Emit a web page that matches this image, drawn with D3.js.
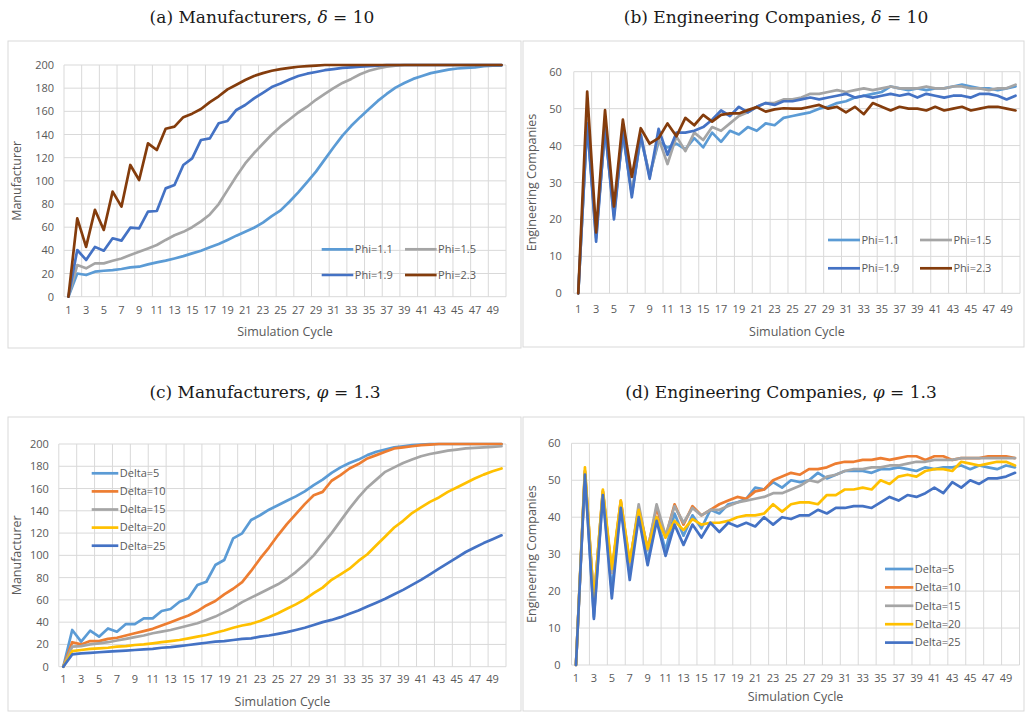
<!DOCTYPE html>
<html><head><meta charset="utf-8">
<script src="https://cdn.jsdelivr.net/npm/d3@7/dist/d3.min.js"></script>
<style>
body{margin:0;background:#fff;}
svg{display:block;}
</style></head><body>
<svg id="chart" width="1028" height="713"></svg>
<script>
// ---------- data ----------
const cycles = [1,2,3,4,5,6,7,8,9,10,11,12,13,14,15,16,17,18,19,20,21,22,23,24,25,26,27,28,29,30,31,32,33,34,35,36,37,38,39,40,41,42,43,44,45,46,47,48,49,50];
const xTickLabels = [1,3,5,7,9,11,13,15,17,19,21,23,25,27,29,31,33,35,37,39,41,43,45,47,49];
const manuTicks = [0,20,40,60,80,100,120,140,160,180,200];
const engTicks = [0,10,20,30,40,50,60];
const phiNames = ["Phi=1.1","Phi=1.5","Phi=1.9","Phi=2.3"];
const deltaNames = ["Delta=5","Delta=10","Delta=15","Delta=20","Delta=25"];
const phiColors = ["#5B9BD5","#A5A5A5","#4472C4","#843C0C"];
const deltaColors = ["#5B9BD5","#ED7D31","#A5A5A5","#FFC000","#4472C4"];

// (a) Manufacturers, delta = 10
const manuPhi11 = [0,20,18.7,21.6,22.4,23,23.9,25.3,25.9,27.9,29.6,31.1,33,35,37.4,39.7,42.6,45.5,49,52.7,56,59.5,64,69.5,74.5,82,90,99,108,118.5,129,139,147.5,155,162,169,175,180.5,184.5,188,190.5,193,194.5,196,197,197.5,198,199,199.5,199.5];
const manuPhi15 = [0,27.3,24.5,28.8,28.8,31,33,36,38.8,41.7,44.6,49,53,56,60,65,71,80,92,104,115,124,132,140,147,153,159,164,170,175,180,184.5,188,192,195,197,198.5,199.5,200,200,200,200,200,200,200,200,200,200,200,200];
const manuPhi19 = [0,40.3,31.7,43,39.7,50.4,48.4,59.6,59,73.4,74,93.5,96.4,113.7,119.4,135.3,136.7,149.7,151.7,161.2,165.5,171.2,176,181,184,187.5,190.5,192.5,194,195.5,196.5,197.5,198,198.5,199,199.5,200,200,200,200,200,200,200,200,200,200,200,200,200,200];
const manuPhi23 = [0,67.6,43,75,57.6,90.7,77.7,113.7,100.7,132.4,126.6,145,146.8,155,158,162,168,173,179,183,187,190.5,193,195,196.5,197.5,198.5,199,199.5,200,200,200,200,200,200,200,200,200,200,200,200,200,200,200,200,200,200,200,200,200];

// (b) Engineering companies, delta = 10
const engPhi11 = [0,46,16,44,22,43,27,42,32,41,39.5,40.5,39,42,39.5,43.5,41,44,43,45,44,46,45.5,47.5,48,48.5,49,50,50.5,51.5,52,53,53.5,54,54.5,56,55.5,55,55.5,55,55.5,55.5,56,56.5,56,55.5,55.5,55,55.5,56];
const engPhi15 = [0,47,15,45,21,44,27,43,31.5,42,35,42.5,38.5,43.5,41.5,45,44,46,48,49,50.5,51.5,51.5,52.5,52.5,53,54,54,54.5,55,54.5,55,55.5,55,55.5,56,55.5,55.5,55.5,56,55.5,55.5,56,56,55.5,55.5,55,55.5,55.5,56.5];
const engPhi19 = [0,46,14,45,20,44,26,43,31,44.5,37.5,43.5,43.5,44,45,47,49.5,48,50.5,49,50.5,51.5,51,52,52,52.5,53,52.5,53,53.5,54,53,53.5,53,53.5,54,53.5,54,53,54,53.5,53,53.5,53.5,53,54,54,53.5,52.5,53.5];
const engPhi23 = [0,54.6,16.5,49.6,23.5,47,31.5,44.7,40.5,42,46,42.5,47.5,45.5,48.3,46.5,48.3,48.7,48.7,49.6,50.4,49.2,49.8,50.1,50,50,50.5,51,50,50.5,49,50.5,48.5,51.5,50.5,49.5,50.5,50,50,49.5,50.5,49.5,50,50.5,49.5,50,50.5,50.5,50,49.5];

// (c) Manufacturers, phi = 1.3
const manuDelta5 = [0,33,22.5,32.3,27,34.4,31.4,38.3,38.3,43.4,43.4,50,51.8,58.4,61.4,73.4,76.3,91.3,95.8,115.3,119.8,131.7,136,141,145,149,153,157.5,163,168,174,179,183,186,190,193,195,197,198,199,199.5,200,200,200,200,200,200,200,200,200];
const manuDelta10 = [0,22,20,23,23,25,26,28,30,32,34,37,40,43,46,50,55,59,65,70,76,86,97,107,118,128,137,146,154,157,167,172,178,182,187,190,193,196,197,198,199,199.5,200,200,200,200,200,200,200,200];
const manuDelta15 = [0,18,18.5,20,21,22,23.5,25,26.5,28,30,31.5,33,35,37,39,42,45,49,53,58,62,66,70,74,79,85,92,100,110,120,131,142,152,161,168,175,179,183,186,189,191,192.5,194,195,196,196.5,197,197.5,198];
const manuDelta20 = [0,14,15,16,16.5,17,18,18.5,19.5,20,21,22,23,24,25.5,27,28.5,30.5,32.5,35,37,38.5,41,44.5,48,52,56,60.5,66,71,78,83,88,95,101,109,117,125,131,138,143,148,152,157,161,165,169,172.5,175.5,178];
const manuDelta25 = [0,11,12,12.5,13,13.5,14,14.5,15,15.5,16,17,17.5,18.5,19.5,20.5,21.5,22.5,23,24,25,25.5,27,28,29.5,31,33,35,37.5,40,42,44.5,47.5,50.5,54,57.5,61,65,69,73.5,78,83,88,93,98,103,107,111,114.5,118];

// (d) Engineering companies, phi = 1.3
const engDelta5 = [0,52,13,46.5,20,43.5,25,41,28,40,31,41,35,40.5,37,42,41,43.5,44,45,48,47.5,49.5,48,50,49.5,50,52,50.5,51.5,52.5,52.5,52.5,52,53,53,53.5,53,52.5,53.5,53,53.5,53.5,54,53,54,53.5,53,54,53.5];
const engDelta10 = [0,52.5,17,47,25,44.5,27.5,42.5,31.5,42.5,34.5,43.5,38,43,40.5,42,43.5,44.5,45.5,45,47,47.5,50,51,52,51.5,53,53,53.5,54.5,55,55,55.5,55.5,56,55.5,56,56.5,56.5,55.5,56.5,56.5,55.5,56,56,56,56.5,56.5,56.5,56];
const engDelta15 = [0,52.5,17,47,25,44,27,43.5,31,43.5,35,43,38.5,42.5,40.5,42,42,43,44,44.5,45,45.5,46.5,46.5,47.5,48.5,50,49.5,51,51.5,52.5,53,53,53.5,53.5,54,54,54.5,55,55,55.5,55.5,55.5,56,56,56,56,56,56,56];
const engDelta20 = [0,53.5,17,47.5,26,44.5,28,42,31.5,40,34.5,39,36.5,39.5,38,38.5,38.5,39,40,40.5,40.5,41,43.5,41.5,43.5,44,44,43.5,46,46,47.5,47.5,48,47.5,50,49,51,51.5,51,52.5,53,53,52.5,55,54.5,54,54.5,55,55,54];
const engDelta25 = [0,51.5,12.5,46,18,42.5,23,40,27,39,29.5,38,32.5,38,34.5,38.5,36,38.5,37.5,38.5,37.5,40,38,40,39.5,40.5,40.5,42,41,42.5,42.5,43,43,42.5,44,45.5,44.5,46,45.5,46.5,48,46.5,49.5,48,50,49,50.5,50.5,51,52];

// ---------- drawing ----------
const svg = d3.select("#chart");
const FONT = "'Open Sans', 'Liberation Sans', sans-serif";
const TXT = "#595959";
const GRID = "#d9d9d9";

function drawPanel(p) {
  const g = svg.append("g");
  g.append("rect").attr("x", p.box[0]).attr("y", p.box[1])
    .attr("width", p.box[2]-p.box[0]).attr("height", p.box[3]-p.box[1])
    .attr("fill", "#fff").attr("stroke", "#d9d9d9").attr("stroke-width", 1);

  const x = d3.scaleBand().domain(cycles).range([p.left, p.right]).paddingInner(0).paddingOuter(0);
  const y = d3.scaleLinear().domain([0, d3.max(p.yTicks)]).range([p.bottom, p.top]);
  const cx = c => x(c) + x.bandwidth()/2;

  g.append("g").selectAll("line").data(p.yTicks).join("line")
    .attr("x1", p.left).attr("x2", p.right)
    .attr("y1", d => y(d)).attr("y2", d => y(d))
    .attr("stroke", GRID).attr("stroke-width", 1);
  const bounds = xTickLabels.map(c => x(c)).concat([p.right]);
  g.append("g").selectAll("line").data(bounds).join("line")
    .attr("x1", d => d).attr("x2", d => d)
    .attr("y1", p.top).attr("y2", p.bottom)
    .attr("stroke", GRID).attr("stroke-width", 1);

  const ya = g.append("g").attr("transform", `translate(${p.left},0)`)
    .call(d3.axisLeft(y).tickValues(p.yTicks).tickSize(0).tickPadding(p.yPad));
  ya.select(".domain").remove();
  ya.selectAll("text").attr("font-family", FONT).attr("font-size", 11).attr("fill", TXT);

  const xa = g.append("g").attr("transform", `translate(0,${p.bottom})`)
    .call(d3.axisBottom(x).tickValues(xTickLabels).tickSize(0).tickPadding(p.xPad));
  xa.select(".domain").remove();
  xa.selectAll("text").attr("font-family", FONT).attr("font-size", 11).attr("fill", TXT);

  g.append("text").attr("x", (p.left+p.right)/2).attr("y", p.xTitleY)
    .attr("text-anchor", "middle").attr("font-family", FONT).attr("font-size", 12.5)
    .attr("fill", TXT).text("Simulation Cycle");
  g.append("text").attr("transform", `translate(${p.yTitleX},${(p.top+p.bottom)/2}) rotate(-90)`)
    .attr("text-anchor", "middle").attr("font-family", FONT).attr("font-size", 12.5)
    .attr("fill", TXT).text(p.yTitle);

  const line = d3.line().x((d, i) => cx(cycles[i])).y(d => y(d));
  p.series.forEach((s, i) => {
    g.append("path").datum(s).attr("d", line)
      .attr("fill", "none").attr("stroke", p.colors[i]).attr("stroke-width", 2.7)
      .attr("stroke-linejoin", "round").attr("stroke-linecap", "round");
  });

  const L = p.legend;
  p.names.forEach((n, i) => {
    const col = i % L.cols, row = Math.floor(i / L.cols);
    const lx = L.x + col * L.colW, ly = L.y + row * L.rowH;
    g.append("line").attr("x1", lx).attr("x2", lx + L.len).attr("y1", ly).attr("y2", ly)
      .attr("stroke", p.colors[i]).attr("stroke-width", 2.7);
    g.append("text").attr("x", lx + L.len + 1.5).attr("y", ly).attr("dy", "0.35em")
      .attr("font-family", FONT).attr("font-size", 11).attr("fill", TXT).text(n);
  });

  const t = svg.append("text").attr("x", p.capX).attr("y", p.capY).attr("text-anchor", "middle")
    .attr("font-family", "'DejaVu Serif', 'Liberation Serif', serif").attr("font-size", 17).attr("fill", "#1a1a1a");
  t.append("tspan").text(p.cap[0]);
  t.append("tspan").attr("font-style", "italic").text(p.cap[1]);
  t.append("tspan").text(p.cap[2]);
}

drawPanel({
  box: [8, 41, 521, 348], left: 64, right: 506, top: 65, bottom: 296.7,
  yTicks: manuTicks, yPad: 10, xPad: 10, xTitleY: 336, yTitleX: 21, yTitle: "Manufacturer",
  series: [manuPhi11, manuPhi15, manuPhi19, manuPhi23], colors: phiColors, names: phiNames,
  legend: {x: 321.7, y: 249.3, cols: 2, colW: 83.3, rowH: 25.7, len: 31.6},
  cap: ["(a) Manufacturers, ", "δ", " = 10"], capX: 262, capY: 23
});
drawPanel({
  box: [523, 41, 1024, 347], left: 573.8, right: 1020, top: 71.7, bottom: 293.3,
  yTicks: engTicks, yPad: 12, xPad: 12, xTitleY: 336, yTitleX: 536, yTitle: "Engineering Companies",
  series: [engPhi11, engPhi15, engPhi19, engPhi23], colors: phiColors, names: phiNames,
  legend: {x: 828, y: 240, cols: 2, colW: 92, rowH: 28.3, len: 32},
  cap: ["(b) Engineering Companies, ", "δ", " = 10"], capX: 776, capY: 23
});
drawPanel({
  box: [8, 417, 521, 711], left: 58.8, right: 506, top: 444, bottom: 666.7,
  yTicks: manuTicks, yPad: 10, xPad: 9, xTitleY: 706, yTitleX: 21, yTitle: "Manufacturer",
  series: [manuDelta5, manuDelta10, manuDelta15, manuDelta20, manuDelta25], colors: deltaColors, names: deltaNames,
  legend: {x: 91.7, y: 473.3, cols: 1, colW: 0, rowH: 18.1, len: 26.6},
  cap: ["(c) Manufacturers, ", "φ", " = 1.3"], capX: 265, capY: 398
});
drawPanel({
  box: [523, 417, 1024, 711], left: 571.5, right: 1019.5, top: 443.3, bottom: 665,
  yTicks: engTicks, yPad: 11, xPad: 9, xTitleY: 701, yTitleX: 536, yTitle: "Engineering Companies",
  series: [engDelta5, engDelta10, engDelta15, engDelta20, engDelta25], colors: deltaColors, names: deltaNames,
  legend: {x: 885, y: 569, cols: 1, colW: 0, rowH: 18.4, len: 28.3},
  cap: ["(d) Engineering Companies, ", "φ", " = 1.3"], capX: 781, capY: 398
});
</script>
</body></html>
